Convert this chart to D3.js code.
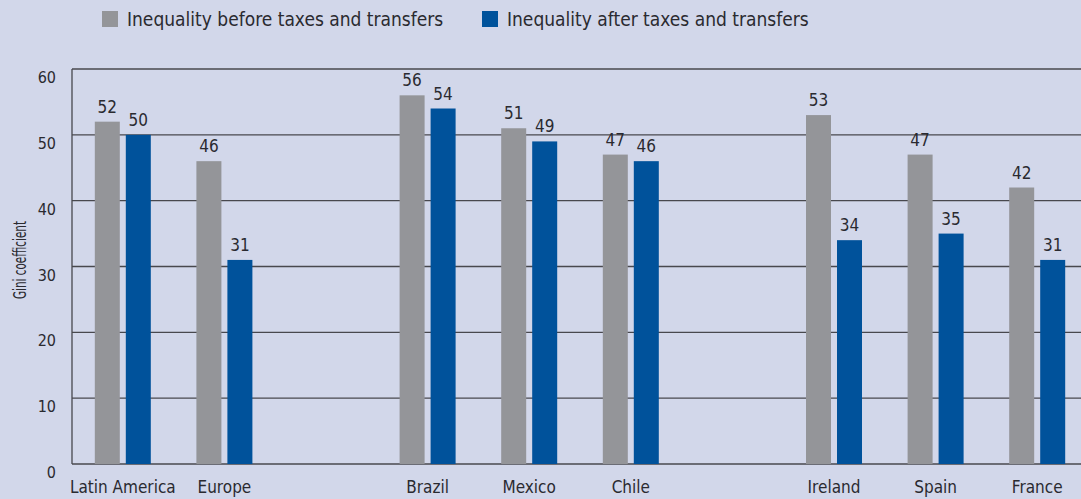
<!DOCTYPE html>
<html>
<head>
<meta charset="utf-8">
<script src="https://cdn.jsdelivr.net/npm/d3@7"></script>
<style>
  html, body { margin: 0; padding: 0; background: #d2d7ea; }
  svg { display: block; }
  text { font-family: "Liberation Sans Narrow", "DejaVu Sans Condensed", sans-serif; fill: #2a2a30; }
</style>
</head>
<body>
<svg id="chart" width="1081" height="499"></svg>
<script>
// Gini coefficients before and after taxes and transfers.
// The "gap" slots are left empty to separate the regional, Latin American and European groups.
const slots = ["Latin America", "Europe", "gap1", "Brazil", "Mexico", "Chile", "gap2", "Ireland", "Spain", "France"];
const categories = ["Latin America", "Europe", "Brazil", "Mexico", "Chile", "Ireland", "Spain", "France"];
const beforeTaxes = [52, 46, 56, 51, 47, 53, 47, 42];
const afterTaxes  = [50, 31, 54, 49, 46, 34, 35, 31];
const yTicks = [0, 10, 20, 30, 40, 50, 60];
const seriesNames = ["Inequality before taxes and transfers", "Inequality after taxes and transfers"];
const seriesColors = ["#949599", "#00529b"];

const svg = d3.select("#chart");
const plotLeft = 72, plotRight = 1088, plotTop = 69, plotBottom = 464;

const x = d3.scaleBand().domain(slots).range([plotLeft, plotRight]);
const y = d3.scaleLinear().domain([0, 60]).range([plotBottom, plotTop]);
const barW = 25, innerGap = 3;

// Horizontal gridlines (including the baseline and the top at 60)
svg.append("g").selectAll("line").data(yTicks).join("line")
  .attr("x1", plotLeft).attr("x2", 1081)
  .attr("y1", d => y(d)).attr("y2", d => y(d))
  .attr("stroke", "#48484e").attr("stroke-width", 1.3);

// Vertical axis line
svg.append("line")
  .attr("x1", plotLeft).attr("x2", plotLeft)
  .attr("y1", y(60)).attr("y2", y(0))
  .attr("stroke", "#48484e").attr("stroke-width", 1.3);

// Y tick labels sit just below their gridlines
svg.append("g").selectAll("text").data(yTicks).join("text")
  .attr("x", 56).attr("y", d => y(d) + 14)
  .attr("text-anchor", "end")
  .style("font-size", "16px")
  .text(d => d);

// Y axis title (condensed to fit the narrow margin)
svg.append("text")
  .attr("transform", `translate(26, 260) rotate(-90)`)
  .attr("text-anchor", "middle")
  .attr("textLength", 78)
  .attr("lengthAdjust", "spacingAndGlyphs")
  .style("font-size", "17px")
  .text("Gini coefficient");

const rows = categories.map((c, i) => ({ c, before: beforeTaxes[i], after: afterTaxes[i] }));
const centre = c => x(c) + x.bandwidth() / 2;

const series = [
  { key: "before", dx: -innerGap - barW, color: seriesColors[0] },
  { key: "after",  dx: innerGap,          color: seriesColors[1] }
];

series.forEach(s => {
  const g = svg.append("g");
  g.selectAll("rect").data(rows).join("rect")
    .attr("x", d => centre(d.c) + s.dx)
    .attr("width", barW)
    .attr("y", d => y(d[s.key]))
    .attr("height", d => y(0) - y(d[s.key]))
    .attr("fill", s.color);
  g.selectAll("text").data(rows).join("text")
    .attr("x", d => centre(d.c) + s.dx + barW / 2)
    .attr("y", d => y(d[s.key]) - 9)
    .attr("text-anchor", "middle")
    .style("font-size", "17px")
    .text(d => d[s.key]);
});

// Category labels
svg.append("g").selectAll("text").data(categories).join("text")
  .attr("x", d => centre(d))
  .attr("y", 493)
  .attr("text-anchor", "middle")
  .style("font-size", "17px")
  .text(d => d);

// Legend
const legendX = [102, 482];
const legend = svg.append("g");
seriesNames.forEach((name, i) => {
  legend.append("rect")
    .attr("x", legendX[i]).attr("y", 11)
    .attr("width", 16).attr("height", 16)
    .attr("fill", seriesColors[i]);
  legend.append("text")
    .attr("x", legendX[i] + 25).attr("y", 26)
    .style("font-size", "19px")
    .text(name);
});
</script>
</body>
</html>
